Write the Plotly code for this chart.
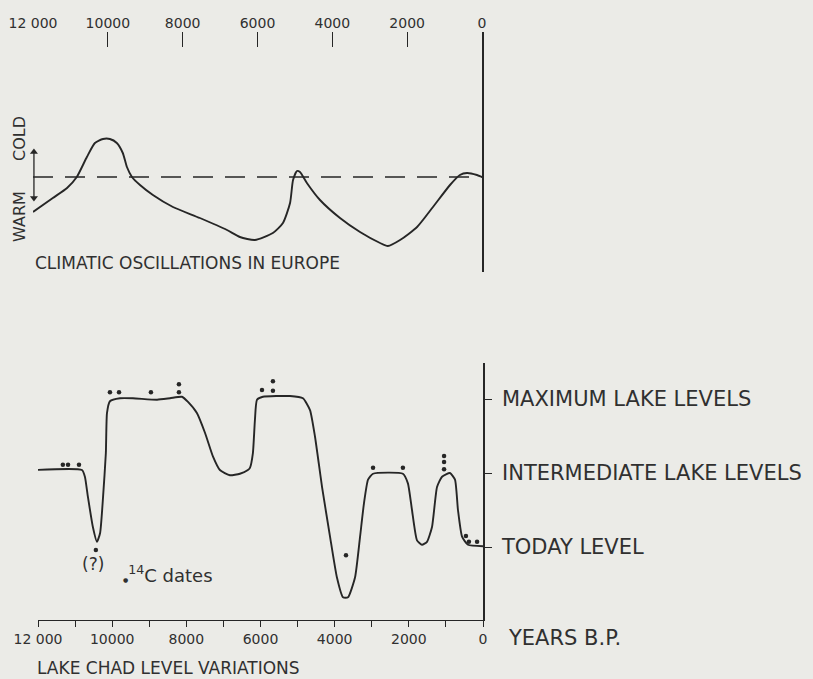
import plotly.graph_objects as go

# ---------------- data ----------------
# Climatic oscillations in Europe (years B.P., relative cold index; 0 = dashed reference)
europe_years = [12000, 11470, 11090, 10830, 10560, 10345, 10130, 9945, 9760, 9600, 9490, 9355,
                9140, 8795, 8260, 7540, 6815, 6470, 6070, 5590, 5320, 5130, 5050, 4945, 4865,
                4680, 4330, 3795, 3260, 2725, 2515, 2190, 1735, 1310, 855, 590, 400, 135, 0]
europe_index = [-3.5, -2.1, -1.1, 0.0, 2.0, 3.4, 3.8, 3.8, 3.4, 2.4, 1.0, 0.0,
                -0.8, -1.8, -3.0, -4.1, -5.3, -6.0, -6.3, -5.6, -4.6, -2.6, -0.3, 0.6, 0.5,
                -0.6, -2.3, -4.1, -5.5, -6.6, -6.9, -6.3, -5.0, -3.0, -0.8, 0.2, 0.4, 0.2, 0.0]

# Lake Chad level (0 = today level, 1 = intermediate, 2 = maximum)
chad_years = [12080, 10815, 10735, 10655, 10520, 10410, 10325, 10245, 10170, 10140, 10060, 9790,
              9440, 8790, 8440, 8120, 7955, 7715, 7495, 7280, 7095, 6825, 6555, 6340, 6285,
              6205, 6150, 6095, 5935, 5205, 4855, 4665, 4530, 4340, 4125, 3940, 3775, 3640,
              3450, 3315, 3210, 3100, 2965, 2160, 2025, 1915, 1780, 1645, 1510, 1375, 1240,
              1105, 890, 755, 675, 565, 405, 0]
chad_level = [1.04, 1.04, 0.95, 0.68, 0.27, 0.07, 0.19, 0.68, 1.27, 1.81, 1.97, 2.01,
              2.01, 1.99, 2.01, 2.03, 1.96, 1.81, 1.54, 1.22, 1.04, 0.97, 0.99, 1.04, 1.07,
              1.27, 1.72, 1.99, 2.03, 2.04, 2.01, 1.85, 1.49, 0.81, 0.14, -0.41, -0.68, -0.68,
              -0.41, 0.14, 0.59, 0.91, 0.99, 0.99, 0.86, 0.50, 0.09, 0.03, 0.07, 0.27, 0.81,
              0.95, 1.00, 0.91, 0.50, 0.14, 0.03, 0.01]

# 14C dates
c14_years = [11330, 11190, 10895, 10440, 10060, 9815, 8955, 8200, 8200,
             5960, 5665, 5665, 3695, 2965, 2160, 1050, 1050, 1050, 460, 380, 160]
c14_level = [1.11, 1.11, 1.11, -0.04, 2.09, 2.09, 2.09, 2.09, 2.20,
             2.12, 2.11, 2.24, -0.11, 1.07, 1.07, 1.05, 1.15, 1.23, 0.15, 0.07, 0.07]

# warm / cold double-arrow ends (cold index units)
arrow_index = [-2.1, 2.5]
arrow_year = 11975

top_tick_vals = [12000, 10000, 8000, 6000, 4000, 2000, 0]
top_tick_text = ["12 000", "10000", "8000", "6000", "4000", "2000", "0"]
bottom_tick_vals = [12000, 10000, 8000, 6000, 4000, 2000, 0]
bottom_tick_text = ["12 000", "10000", "8000", "6000", "4000", "2000", "0"]
bottom_minor_step = 1000
level_vals = [0, 1, 2]
level_text = ["TODAY LEVEL", "INTERMEDIATE LAKE LEVELS", "MAXIMUM LAKE LEVELS"]

# ---------------- style ----------------
W, H = 813, 679
BG = "#ebebe7"
INK = "#262626"
TXT = "#303030"
FONT = "DejaVu Sans"

def px_x(p):
    return p / W

def px_y(p):
    return 1 - p / H

fig = go.Figure()

fig.add_trace(go.Scatter(x=europe_years, y=europe_index, mode="lines",
                         line=dict(color=INK, width=1.9, shape="spline", smoothing=0.6),
                         xaxis="x", yaxis="y", showlegend=False, hoverinfo="skip"))

fig.add_trace(go.Scatter(x=[arrow_year, arrow_year], y=arrow_index, mode="lines+markers",
                         line=dict(color=INK, width=1.3),
                         marker=dict(symbol=["triangle-down", "triangle-up"], size=7, color=INK),
                         xaxis="x", yaxis="y", showlegend=False, hoverinfo="skip", cliponaxis=False))

fig.add_trace(go.Scatter(x=chad_years, y=chad_level, mode="lines",
                         line=dict(color=INK, width=1.9, shape="spline", smoothing=0.5),
                         xaxis="x2", yaxis="y2", showlegend=False, hoverinfo="skip",
                         cliponaxis=False))

fig.add_trace(go.Scatter(x=c14_years, y=c14_level, mode="markers",
                         marker=dict(color=INK, size=4.5),
                         xaxis="x2", yaxis="y2", showlegend=False, hoverinfo="skip"))

# dashed reference line (top)
fig.add_shape(type="line", xref="x", yref="y", x0=12000, x1=0, y0=0, y1=0,
              line=dict(color=INK, width=1.3, dash="20px,12px"))

axis_common = dict(showgrid=False, zeroline=False, fixedrange=True, automargin=False)

fig.update_layout(
    template="none",
    width=W, height=H, autosize=False,
    margin=dict(l=0, r=0, t=0, b=0, pad=0),
    paper_bgcolor=BG, plot_bgcolor=BG,
    font=dict(family=FONT, color=TXT, size=14),
    xaxis=dict(domain=[px_x(33), px_x(482)], range=[12000, 0], side="top", anchor="y",
               tickmode="array", tickvals=top_tick_vals, ticktext=top_tick_text,
               ticks="inside", ticklen=15, tickwidth=1, tickcolor=INK,
               showline=False, tickfont=dict(size=14, color=TXT), **axis_common),
    yaxis=dict(domain=[px_y(272), px_y(32)], range=[-9.5, 14.5], side="right", anchor="x",
               showline=True, linecolor=INK, linewidth=1.6, showticklabels=False,
               ticks="", **axis_common),
    xaxis2=dict(domain=[px_x(38), px_x(483)], range=[12000, 0], side="bottom", anchor="y2",
                tickmode="array", tickvals=bottom_tick_vals, ticktext=bottom_tick_text,
                ticks="outside", ticklen=6, tickwidth=1.3, tickcolor=INK,
                minor=dict(tickmode="linear", tick0=0, dtick=bottom_minor_step,
                           ticks="outside", ticklen=6, tickwidth=1.3, tickcolor=INK,
                           showgrid=False),
                showline=True, linecolor=INK, linewidth=1.4,
                tickfont=dict(size=14, color=TXT), **axis_common),
    yaxis2=dict(domain=[px_y(620), px_y(363)], range=[(547 - 620) / 74, (547 - 363) / 74],
                side="right", anchor="x2",
                tickmode="array", tickvals=level_vals, ticktext=level_text,
                ticks="outside", ticklen=7, tickwidth=1.2, tickcolor=INK,
                showline=True, linecolor=INK, linewidth=1.6,
                ticklabelstandoff=6,
                tickfont=dict(size=21, color=TXT), **axis_common),
)

annotations = [
    dict(text="CLIMATIC OSCILLATIONS IN EUROPE", x=px_x(33), y=px_y(263), xref="paper", yref="paper",
         xanchor="left", yanchor="middle", showarrow=False, font=dict(size=17, color=TXT)),
    dict(text="LAKE CHAD LEVEL VARIATIONS", x=px_x(35), y=px_y(668), xref="paper", yref="paper",
         xanchor="left", yanchor="middle", showarrow=False, font=dict(size=17, color=TXT)),
    dict(text="YEARS B.P.", x=px_x(506), y=px_y(638), xref="paper", yref="paper",
         xanchor="left", yanchor="middle", showarrow=False, font=dict(size=21, color=TXT)),
    dict(text="COLD", x=px_x(20), y=px_y(139), xref="paper", yref="paper", textangle=-90,
         xanchor="center", yanchor="middle", showarrow=False, font=dict(size=16, color=TXT)),
    dict(text="WARM", x=px_x(20), y=px_y(217), xref="paper", yref="paper", textangle=-90,
         xanchor="center", yanchor="middle", showarrow=False, font=dict(size=16, color=TXT)),
    dict(text="(?)", x=px_x(93), y=px_y(564), xref="paper", yref="paper",
         xanchor="center", yanchor="middle", showarrow=False, font=dict(size=17, color=TXT)),
    dict(text="<span style='font-size:6px'>●</span><sup>14</sup>C dates", x=px_x(121), y=px_y(574),
         xref="paper", yref="paper", xanchor="left", yanchor="middle", showarrow=False,
         font=dict(size=18, color=TXT)),
]
fig.update_layout(annotations=annotations)

fig.write_html("out.html", config={"displayModeBar": False, "responsive": False},
               post_script="document.body.style.margin='0px';document.body.style.padding='0px';")
